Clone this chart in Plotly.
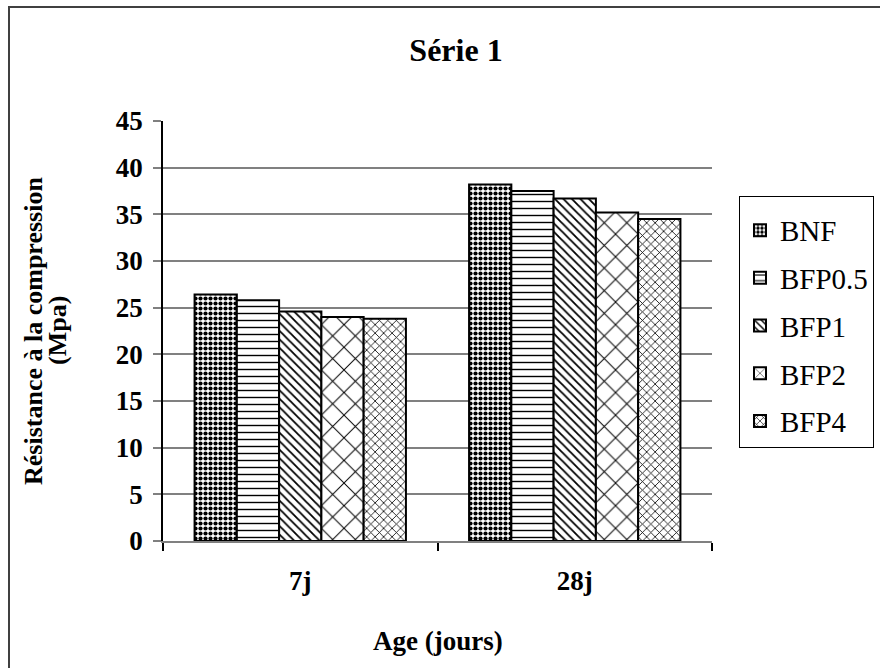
import plotly.graph_objects as go

# Compressive strength (MPa) by curing age
ages = ["7j", "28j"]
series_names = ["BNF", "BFP0.5", "BFP1", "BFP2", "BFP4"]
bnf = [26.4, 38.2]
bfp05 = [25.8, 37.5]
bfp1 = [24.6, 36.7]
bfp2 = [24.0, 35.2]
bfp4 = [23.8, 34.5]
y_ticks = [0, 5, 10, 15, 20, 25, 30, 35, 40, 45]

values = [bnf, bfp05, bfp1, bfp2, bfp4]
patterns = [
    dict(shape=".", size=5, solidity=0.55),
    dict(shape="-", size=7, solidity=0.2),
    dict(shape="\\", size=6, solidity=0.3),
    dict(shape="x", size=16, solidity=0.12),
    dict(shape="x", size=6, solidity=0.25),
]

W, H = 880, 668
L, R, T, B = 163, 712, 121, 541  # plot area in pixels

def px_x(x):
    return (x - L) / (R - L)

def px_y(y):
    return (B - y) / (B - T)

FONT = "Liberation Serif, Times New Roman, serif"
FS = 27

fig = go.Figure()
for name, vals, pat in zip(series_names, values, patterns):
    fig.add_trace(go.Bar(
        x=ages, y=vals, name=name, legendgroup=name,
        marker=dict(
            color="white",
            line=dict(color="black", width=2),
            pattern=dict(fgcolor="black", bgcolor="white", fillmode="replace", **pat),
        ),
    ))

fig.update_layout(
    width=W, height=H,
    margin=dict(l=L, r=W - R, t=T, b=H - B, autoexpand=False),
    paper_bgcolor="white", plot_bgcolor="white",
    barmode="group", bargap=0.23, bargroupgap=0,
    font=dict(family=FONT, color="black", size=FS),
    title=dict(
        text="<b>Série 1</b>", font=dict(family=FONT, size=32, color="black"),
        xref="paper", x=px_x(456), xanchor="center",
        yref="container", y=1 - 50 / H, yanchor="middle",
    ),
    legend=dict(
        x=px_x(739), xanchor="left", y=px_y(196), yanchor="top",
        bordercolor="black", borderwidth=1, bgcolor="white",
        font=dict(family=FONT, size=29, color="black"),
        title=dict(text=" ", font=dict(size=6)),
        tracegroupgap=7, itemwidth=30,
    ),
    showlegend=True,
)

fig.update_xaxes(
    type="category", showline=True, linecolor="#808080", linewidth=1.5,
    ticks="outside", tickson="boundaries", ticklen=8, tickcolor="black", tickwidth=1.5,
    tickfont=dict(family=FONT, size=FS, color="black"),
    ticklabelstandoff=15,
    showgrid=False, zeroline=False,
    tickvals=ages, ticktext=["<b>%s</b>" % a for a in ages],
)
fig.update_yaxes(
    range=[0, 45], tickvals=y_ticks, ticktext=["<b>%d</b>" % v for v in y_ticks],
    showline=True, linecolor="black", linewidth=1.5,
    ticks="outside", ticklen=8, tickcolor="#808080", tickwidth=1.5,
    showgrid=True, gridcolor="#808080", gridwidth=1.5, zeroline=False,
    tickfont=dict(family=FONT, size=FS, color="black"),
    ticklabelstandoff=5,
)

# Axis titles
fig.add_annotation(
    text="<b>Résistance à la compression</b>", textangle=-90,
    xref="paper", yref="paper", x=px_x(33), y=0.5, showarrow=False,
    xanchor="center", yanchor="middle",
    font=dict(family=FONT, size=26, color="black"),
)
fig.add_annotation(
    text="<b>(Mpa)</b>", textangle=-90,
    xref="paper", yref="paper", x=px_x(57), y=0.5, showarrow=False,
    xanchor="center", yanchor="middle",
    font=dict(family=FONT, size=26, color="black"),
)
fig.add_annotation(
    text="<b>Age (jours)</b>",
    xref="paper", yref="paper", x=0.5, y=px_y(641), showarrow=False,
    xanchor="center", yanchor="middle",
    font=dict(family=FONT, size=FS, color="black"),
)

# Chart frame
fig.add_shape(
    type="rect", xref="paper", yref="paper",
    x0=px_x(9), y0=px_y(760), x1=px_x(940), y1=px_y(7),
    line=dict(color="#404040", width=2), fillcolor="rgba(0,0,0,0)", layer="below",
)

fig.write_html("out.html")
